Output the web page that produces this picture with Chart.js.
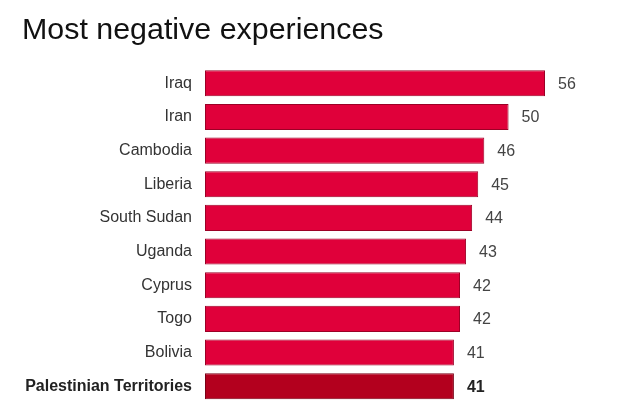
<!DOCTYPE html>
<html>
<head>
<meta charset="utf-8">
<script src="https://cdn.jsdelivr.net/npm/chart.js@4"></script>
<style>
  html, body { margin: 0; padding: 0; background: #fff; }
  #wrap { width: 640px; height: 419px; }
</style>
</head>
<body>
<div id="wrap"><canvas id="chart" width="640" height="419"></canvas></div>
<script>
// Data
const countries = ["Iraq", "Iran", "Cambodia", "Liberia", "South Sudan", "Uganda", "Cyprus", "Togo", "Bolivia", "Palestinian Territories"];
const scores = [56, 50, 46, 45, 44, 43, 42, 42, 41, 41];
const highlight = "Palestinian Territories";

const barFill = "#e0003a";
const barEdge = "#9c0026";
const hiFill = "#b3001e";
const hiEdge = "#7a0016";

const isHi = i => countries[i] === highlight;

// draws the numbers at the end of each bar
const valueLabels = {
  id: 'valueLabels',
  afterDatasetsDraw(chart) {
    const ctx = chart.ctx;
    const meta = chart.getDatasetMeta(0);
    ctx.save();
    ctx.textAlign = 'left';
    ctx.textBaseline = 'middle';
    meta.data.forEach((bar, i) => {
      ctx.font = (isHi(i) ? 'bold ' : '') + '16px "Liberation Sans", Arial, sans-serif';
      ctx.fillStyle = isHi(i) ? '#222' : '#444';
      ctx.fillText(scores[i], bar.x + 13, bar.y + 1);
    });
    ctx.restore();
  }
};

new Chart(document.getElementById('chart'), {
  type: 'bar',
  data: {
    labels: countries,
    datasets: [{
      data: scores,
      backgroundColor: countries.map((c, i) => isHi(i) ? hiFill : barFill),
      borderColor: countries.map((c, i) => isHi(i) ? hiEdge : barEdge),
      borderWidth: 1,
      borderSkipped: false,
      barPercentage: 0.775,
      categoryPercentage: 1
    }]
  },
  options: {
    indexAxis: 'y',
    responsive: false,
    animation: false,
    layout: { padding: { left: 22, right: 10, top: 0, bottom: 16 } },
    plugins: {
      legend: { display: false },
      tooltip: { enabled: false },
      title: {
        display: true,
        text: 'Most negative experiences',
        align: 'start',
        color: '#111',
        font: { family: '"Liberation Sans", Arial, sans-serif', size: 30.4, weight: 'normal' },
        padding: { top: 12, bottom: 18 }
      }
    },
    scales: {
      x: {
        min: 0,
        max: 70,
        display: false
      },
      y: {
        grid: { display: false },
        border: { display: false },
        afterFit(scale) { scale.width = 183; },
        ticks: {
          padding: 5,
          color: ctx => isHi(ctx.index) ? '#222' : '#333',
          font: ctx => ({
            family: '"Liberation Sans", Arial, sans-serif',
            size: 16,
            weight: isHi(ctx.index) ? 'bold' : 'normal'
          })
        }
      }
    }
  },
  plugins: [valueLabels]
});
</script>
</body>
</html>
